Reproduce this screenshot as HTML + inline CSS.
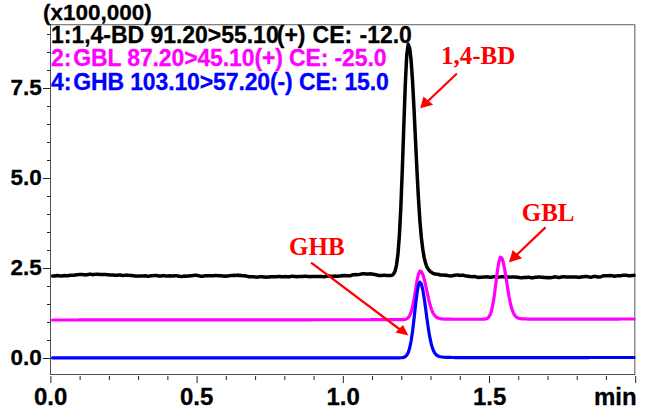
<!DOCTYPE html>
<html><head><meta charset="utf-8"><style>
html,body{margin:0;padding:0;background:#fff;width:646px;height:410px;overflow:hidden;position:relative}
.t{position:absolute;white-space:pre;font-family:"Liberation Sans",sans-serif;font-weight:bold;line-height:1;-webkit-text-stroke:0.3px currentColor}
.s{position:absolute;white-space:pre;font-family:"Liberation Serif",serif;font-weight:bold;line-height:1;color:#f00;transform:scaleY(1.03);transform-origin:0 0}
</style></head><body>
<svg width="646" height="410" style="position:absolute;left:0;top:0">
<rect x="50" y="24" width="585" height="1" fill="#808080"/><rect x="50" y="25" width="585" height="1" fill="#dcdcdc"/>
<rect x="634" y="24" width="1" height="351" fill="#8a8a8a"/><rect x="635" y="24" width="1" height="351" fill="#c8c8c8"/>
<rect x="50" y="24" width="1" height="351" fill="#505050"/>
<rect x="50" y="374" width="585" height="1" fill="#505050"/>
<rect x="43" y="358" width="7" height="1" fill="#222"/><rect x="47" y="340" width="3" height="1" fill="#222"/><rect x="47" y="322" width="3" height="1" fill="#222"/><rect x="47" y="304" width="3" height="1" fill="#222"/><rect x="47" y="286" width="3" height="1" fill="#222"/><rect x="43" y="268" width="7" height="1" fill="#222"/><rect x="47" y="250" width="3" height="1" fill="#222"/><rect x="47" y="232" width="3" height="1" fill="#222"/><rect x="47" y="214" width="3" height="1" fill="#222"/><rect x="47" y="196" width="3" height="1" fill="#222"/><rect x="43" y="178" width="7" height="1" fill="#222"/><rect x="47" y="160" width="3" height="1" fill="#222"/><rect x="47" y="142" width="3" height="1" fill="#222"/><rect x="47" y="124" width="3" height="1" fill="#222"/><rect x="47" y="106" width="3" height="1" fill="#222"/><rect x="43" y="88" width="7" height="1" fill="#222"/><rect x="47" y="70" width="3" height="1" fill="#222"/><rect x="47" y="52" width="3" height="1" fill="#222"/><rect x="47" y="34" width="3" height="1" fill="#222"/><line x1="50.90" y1="376" x2="50.90" y2="383" stroke="#222" stroke-width="1"/><line x1="80.14" y1="376" x2="80.14" y2="380" stroke="#222" stroke-width="1"/><line x1="109.38" y1="376" x2="109.38" y2="380" stroke="#222" stroke-width="1"/><line x1="138.62" y1="376" x2="138.62" y2="380" stroke="#222" stroke-width="1"/><line x1="167.86" y1="376" x2="167.86" y2="380" stroke="#222" stroke-width="1"/><line x1="197.10" y1="376" x2="197.10" y2="383" stroke="#222" stroke-width="1"/><line x1="226.34" y1="376" x2="226.34" y2="380" stroke="#222" stroke-width="1"/><line x1="255.58" y1="376" x2="255.58" y2="380" stroke="#222" stroke-width="1"/><line x1="284.82" y1="376" x2="284.82" y2="380" stroke="#222" stroke-width="1"/><line x1="314.06" y1="376" x2="314.06" y2="380" stroke="#222" stroke-width="1"/><line x1="343.30" y1="376" x2="343.30" y2="383" stroke="#222" stroke-width="1"/><line x1="372.54" y1="376" x2="372.54" y2="380" stroke="#222" stroke-width="1"/><line x1="401.78" y1="376" x2="401.78" y2="380" stroke="#222" stroke-width="1"/><line x1="431.02" y1="376" x2="431.02" y2="380" stroke="#222" stroke-width="1"/><line x1="460.26" y1="376" x2="460.26" y2="380" stroke="#222" stroke-width="1"/><line x1="489.50" y1="376" x2="489.50" y2="383" stroke="#222" stroke-width="1"/><line x1="518.74" y1="376" x2="518.74" y2="380" stroke="#222" stroke-width="1"/><line x1="547.98" y1="376" x2="547.98" y2="380" stroke="#222" stroke-width="1"/><line x1="577.22" y1="376" x2="577.22" y2="380" stroke="#222" stroke-width="1"/><line x1="606.46" y1="376" x2="606.46" y2="380" stroke="#222" stroke-width="1"/><line x1="635.70" y1="376" x2="635.70" y2="383" stroke="#222" stroke-width="1"/>
<path d="M52.60,276.07 L54.40,275.91 L55.86,275.75 L57.32,275.59 L58.78,275.68 L60.24,275.89 L61.71,275.91 L63.17,275.76 L64.63,275.58 L66.09,275.65 L67.55,275.71 L69.02,275.45 L70.48,275.33 L71.94,275.37 L73.40,275.26 L74.86,275.14 L76.33,274.70 L77.79,274.66 L79.25,274.40 L80.71,274.60 L82.17,274.56 L83.64,274.83 L85.10,274.84 L86.56,274.95 L88.02,274.48 L89.48,274.33 L90.95,274.30 L92.41,274.66 L93.87,274.47 L95.33,274.36 L96.79,274.16 L98.26,274.24 L99.72,274.44 L101.18,274.43 L102.64,274.51 L104.10,274.49 L105.57,274.58 L107.03,274.67 L108.49,274.72 L109.95,275.03 L111.41,275.02 L112.88,275.09 L114.34,275.28 L115.80,275.16 L117.26,275.18 L118.72,274.93 L120.19,275.05 L121.65,275.24 L123.11,275.39 L124.57,275.35 L126.03,275.11 L127.50,275.14 L128.96,275.36 L130.42,275.54 L131.88,275.55 L133.34,275.79 L134.81,276.04 L136.27,276.08 L137.73,276.13 L139.19,275.93 L140.65,276.10 L142.12,275.91 L143.58,275.88 L145.04,275.80 L146.50,276.09 L147.96,276.32 L149.43,276.12 L150.89,275.84 L152.35,275.73 L153.81,275.60 L155.27,275.62 L156.74,275.48 L158.20,275.94 L159.66,276.08 L161.12,276.02 L162.58,275.75 L164.05,275.60 L165.51,275.89 L166.97,275.90 L168.43,275.93 L169.89,275.81 L171.36,275.90 L172.82,275.97 L174.28,275.79 L175.74,275.86 L177.20,275.87 L178.67,276.24 L180.13,276.34 L181.59,276.39 L183.05,276.28 L184.51,276.07 L185.98,276.18 L187.44,276.02 L188.90,276.10 L190.36,275.70 L191.82,275.73 L193.29,275.39 L194.75,275.30 L196.21,275.26 L197.67,275.45 L199.13,275.85 L200.60,276.29 L202.06,276.31 L203.52,276.17 L204.98,275.79 L206.44,275.87 L207.91,275.81 L209.37,275.67 L210.83,275.66 L212.29,275.76 L213.75,275.67 L215.22,275.61 L216.68,275.60 L218.14,275.65 L219.60,275.76 L221.06,275.68 L222.53,276.04 L223.99,276.09 L225.45,276.28 L226.91,276.06 L228.37,276.00 L229.84,275.63 L231.30,275.47 L232.76,275.43 L234.22,275.30 L235.68,275.49 L237.15,275.06 L238.61,275.45 L240.07,275.21 L241.53,275.66 L242.99,275.69 L244.46,275.78 L245.92,276.03 L247.38,276.40 L248.84,276.80 L250.30,276.74 L251.77,276.66 L253.23,276.66 L254.69,276.97 L256.15,276.97 L257.61,277.14 L259.08,276.85 L260.54,276.82 L262.00,276.63 L263.46,276.92 L264.92,276.97 L266.39,277.30 L267.85,277.10 L269.31,277.00 L270.77,276.79 L272.23,276.69 L273.70,276.78 L275.16,276.76 L276.62,276.78 L278.08,276.55 L279.54,276.47 L281.01,276.74 L282.47,276.83 L283.93,276.77 L285.39,276.55 L286.85,276.85 L288.32,276.77 L289.78,276.67 L291.24,276.35 L292.70,276.29 L294.16,276.42 L295.63,276.51 L297.09,276.77 L298.55,276.54 L300.01,276.60 L301.47,276.50 L302.94,276.58 L304.40,276.34 L305.86,276.22 L307.32,276.44 L308.78,276.52 L310.25,276.73 L311.71,276.52 L313.17,276.52 L314.63,276.39 L316.09,276.48 L317.56,276.49 L319.02,276.52 L320.48,276.39 L321.94,276.57 L323.40,276.65 L324.87,276.64 L326.33,276.32 L327.79,275.95 L329.25,275.98 L330.71,276.15 L332.18,276.28 L333.64,276.16 L335.10,276.07 L336.56,276.16 L338.02,276.16 L339.49,275.91 L340.95,275.94 L342.41,275.54 L343.87,275.66 L345.33,275.43 L346.80,275.67 L348.26,275.75 L349.72,275.82 L351.18,275.44 L352.64,274.82 L354.11,274.63 L355.57,274.55 L357.03,274.70 L358.49,274.59 L359.95,274.37 L361.42,273.94 L362.88,273.72 L364.34,273.85 L365.80,274.04 L367.26,273.98 L368.73,273.90 L370.19,273.83 L371.65,273.99 L373.11,274.20 L374.57,274.41 L376.04,274.74 L377.50,275.09 L378.96,275.59 L380.42,275.51 L381.88,275.50 L383.35,275.33 L384.81,275.33 L386.27,275.43 L387.73,275.41 L389.19,275.53 L390.66,275.38 L392.12,275.35 L393.58,273.91 L395.04,271.23 L396.50,265.04 L397.97,254.09 L399.43,234.80 L400.89,206.25 L402.35,168.68 L403.81,125.86 L405.28,84.96 L406.74,55.01 L408.20,44.27 L409.66,48.07 L411.12,60.57 L412.59,81.90 L414.05,109.64 L415.51,140.40 L416.97,170.72 L418.43,198.18 L419.90,220.81 L421.36,237.67 L422.82,249.56 L424.28,258.11 L425.74,263.87 L427.21,267.62 L428.67,269.78 L430.13,271.30 L431.59,272.47 L433.05,273.31 L434.52,273.89 L435.98,274.04 L437.44,274.36 L438.90,274.49 L440.36,275.02 L441.83,274.91 L443.29,275.13 L444.75,275.07 L446.21,275.15 L447.67,275.49 L449.14,275.75 L450.60,275.90 L452.06,275.76 L453.52,275.58 L454.98,275.23 L456.45,275.12 L457.91,275.02 L459.37,275.39 L460.83,275.21 L462.29,275.25 L463.76,275.32 L465.22,275.81 L466.68,276.10 L468.14,276.32 L469.60,276.56 L471.07,276.62 L472.53,276.75 L473.99,276.38 L475.45,276.80 L476.91,277.06 L478.38,277.49 L479.84,277.34 L481.30,277.20 L482.76,277.09 L484.22,276.94 L485.69,276.88 L487.15,276.84 L488.61,277.10 L490.07,277.20 L491.53,277.17 L493.00,276.84 L494.46,276.65 L495.92,276.89 L497.38,277.04 L498.84,277.15 L500.31,276.88 L501.77,276.66 L503.23,276.68 L504.69,276.92 L506.15,277.08 L507.62,277.10 L509.08,276.99 L510.54,277.12 L512.00,276.96 L513.46,277.01 L514.93,276.92 L516.39,277.34 L517.85,277.31 L519.31,277.56 L520.77,277.67 L522.24,277.75 L523.70,277.57 L525.16,277.37 L526.62,277.41 L528.08,277.34 L529.55,277.37 L531.01,277.67 L532.47,277.77 L533.93,277.66 L535.39,277.20 L536.86,277.28 L538.32,277.11 L539.78,277.09 L541.24,277.22 L542.70,277.25 L544.17,277.56 L545.63,277.57 L547.09,277.72 L548.55,277.62 L550.01,277.66 L551.48,277.57 L552.94,277.38 L554.40,276.86 L555.86,276.88 L557.32,277.17 L558.79,277.49 L560.25,277.32 L561.71,276.95 L563.17,276.71 L564.63,276.87 L566.10,276.95 L567.56,277.03 L569.02,277.01 L570.48,276.97 L571.94,276.91 L573.41,276.88 L574.87,276.89 L576.33,276.95 L577.79,277.18 L579.25,277.28 L580.72,277.22 L582.18,276.70 L583.64,276.70 L585.10,276.44 L586.56,276.52 L588.03,276.63 L589.49,277.05 L590.95,277.24 L592.41,276.82 L593.87,276.60 L595.34,276.43 L596.80,276.66 L598.26,276.95 L599.72,276.97 L601.18,276.64 L602.65,276.01 L604.11,275.86 L605.57,275.83 L607.03,275.72 L608.49,275.66 L609.96,275.44 L611.42,275.73 L612.88,275.84 L614.34,276.17 L615.80,275.93 L617.27,275.84 L618.73,275.65 L620.19,275.66 L621.65,275.53 L623.11,275.35 L624.58,275.18 L626.04,275.35 L627.50,275.51 L628.96,275.75 L630.42,275.78 L631.89,275.54 L633.35,275.39 L634.00,275.26" fill="none" stroke="#000" stroke-width="3.5" stroke-linejoin="round" stroke-linecap="round"/>
<path d="M52.60,320.00 L54.40,320.00 L55.86,319.99 L57.32,319.99 L58.78,319.99 L60.24,319.99 L61.71,319.99 L63.17,319.99 L64.63,319.99 L66.09,319.99 L67.55,319.98 L69.02,319.98 L70.48,319.98 L71.94,319.98 L73.40,319.98 L74.86,319.98 L76.33,319.98 L77.79,319.98 L79.25,319.97 L80.71,319.97 L82.17,319.97 L83.64,319.97 L85.10,319.97 L86.56,319.97 L88.02,319.97 L89.48,319.97 L90.95,319.96 L92.41,319.96 L93.87,319.96 L95.33,319.96 L96.79,319.96 L98.26,319.96 L99.72,319.96 L101.18,319.96 L102.64,319.95 L104.10,319.95 L105.57,319.95 L107.03,319.95 L108.49,319.95 L109.95,319.95 L111.41,319.95 L112.88,319.95 L114.34,319.94 L115.80,319.94 L117.26,319.94 L118.72,319.94 L120.19,319.94 L121.65,319.94 L123.11,319.94 L124.57,319.94 L126.03,319.93 L127.50,319.93 L128.96,319.93 L130.42,319.93 L131.88,319.93 L133.34,319.93 L134.81,319.93 L136.27,319.93 L137.73,319.92 L139.19,319.92 L140.65,319.92 L142.12,319.92 L143.58,319.92 L145.04,319.92 L146.50,319.92 L147.96,319.92 L149.43,319.91 L150.89,319.91 L152.35,319.91 L153.81,319.91 L155.27,319.91 L156.74,319.91 L158.20,319.91 L159.66,319.91 L161.12,319.90 L162.58,319.90 L164.05,319.90 L165.51,319.90 L166.97,319.90 L168.43,319.90 L169.89,319.90 L171.36,319.90 L172.82,319.89 L174.28,319.89 L175.74,319.89 L177.20,319.89 L178.67,319.89 L180.13,319.89 L181.59,319.89 L183.05,319.89 L184.51,319.88 L185.98,319.88 L187.44,319.88 L188.90,319.88 L190.36,319.88 L191.82,319.88 L193.29,319.88 L194.75,319.88 L196.21,319.87 L197.67,319.87 L199.13,319.87 L200.60,319.87 L202.06,319.87 L203.52,319.87 L204.98,319.87 L206.44,319.87 L207.91,319.86 L209.37,319.86 L210.83,319.86 L212.29,319.86 L213.75,319.86 L215.22,319.86 L216.68,319.86 L218.14,319.86 L219.60,319.85 L221.06,319.85 L222.53,319.85 L223.99,319.85 L225.45,319.85 L226.91,319.85 L228.37,319.85 L229.84,319.85 L231.30,319.84 L232.76,319.84 L234.22,319.84 L235.68,319.84 L237.15,319.84 L238.61,319.84 L240.07,319.84 L241.53,319.84 L242.99,319.83 L244.46,319.83 L245.92,319.83 L247.38,319.83 L248.84,319.83 L250.30,319.83 L251.77,319.83 L253.23,319.83 L254.69,319.82 L256.15,319.82 L257.61,319.82 L259.08,319.82 L260.54,319.82 L262.00,319.82 L263.46,319.82 L264.92,319.82 L266.39,319.81 L267.85,319.81 L269.31,319.81 L270.77,319.81 L272.23,319.81 L273.70,319.81 L275.16,319.81 L276.62,319.81 L278.08,319.80 L279.54,319.80 L281.01,319.80 L282.47,319.80 L283.93,319.80 L285.39,319.80 L286.85,319.80 L288.32,319.80 L289.78,319.79 L291.24,319.79 L292.70,319.79 L294.16,319.79 L295.63,319.79 L297.09,319.79 L298.55,319.79 L300.01,319.79 L301.47,319.78 L302.94,319.78 L304.40,319.78 L305.86,319.78 L307.32,319.78 L308.78,319.78 L310.25,319.78 L311.71,319.78 L313.17,319.77 L314.63,319.77 L316.09,319.77 L317.56,319.77 L319.02,319.77 L320.48,319.77 L321.94,319.77 L323.40,319.77 L324.87,319.76 L326.33,319.76 L327.79,319.76 L329.25,319.76 L330.71,319.76 L332.18,319.76 L333.64,319.76 L335.10,319.76 L336.56,319.75 L338.02,319.75 L339.49,319.75 L340.95,319.75 L342.41,319.75 L343.87,319.75 L345.33,319.75 L346.80,319.75 L348.26,319.74 L349.72,319.74 L351.18,319.74 L352.64,319.74 L354.11,319.74 L355.57,319.74 L357.03,319.74 L358.49,319.74 L359.95,319.73 L361.42,319.73 L362.88,319.73 L364.34,319.73 L365.80,319.73 L367.26,319.73 L368.73,319.73 L370.19,319.73 L371.65,319.72 L373.11,319.72 L374.57,319.72 L376.04,319.72 L377.50,319.72 L378.96,319.72 L380.42,319.72 L381.88,319.72 L383.35,319.71 L384.81,319.71 L386.27,319.71 L387.73,319.71 L389.19,319.71 L390.66,319.71 L392.12,319.71 L393.58,319.71 L395.04,319.70 L396.50,319.70 L397.97,319.70 L399.43,319.70 L400.89,319.68 L402.35,319.65 L403.81,319.56 L405.28,319.34 L406.74,318.84 L408.20,317.77 L409.66,315.69 L411.12,312.08 L412.59,306.51 L414.05,298.95 L415.51,290.04 L416.97,281.18 L418.43,274.27 L419.90,271.04 L421.36,271.60 L422.82,274.48 L424.28,279.42 L425.74,285.77 L427.21,292.66 L428.67,299.28 L430.13,305.03 L431.59,309.61 L433.05,313.00 L434.52,315.34 L435.98,316.86 L437.44,317.81 L438.90,318.37 L440.36,318.70 L441.83,318.90 L443.29,319.01 L444.75,319.09 L446.21,319.14 L447.67,319.17 L449.14,319.19 L450.60,319.21 L452.06,319.22 L453.52,319.24 L454.98,319.25 L456.45,319.25 L457.91,319.26 L459.37,319.26 L460.83,319.27 L462.29,319.27 L463.76,319.27 L465.22,319.27 L466.68,319.27 L468.14,319.27 L469.60,319.26 L471.07,319.26 L472.53,319.26 L473.99,319.26 L475.45,319.26 L476.91,319.26 L478.38,319.25 L479.84,319.25 L481.30,319.24 L482.76,319.22 L484.22,319.14 L485.69,318.94 L487.15,318.43 L488.61,317.27 L490.07,314.92 L491.53,310.68 L493.00,303.90 L494.46,294.42 L495.92,282.92 L497.38,271.19 L498.84,261.79 L500.31,257.15 L501.77,257.85 L503.23,262.17 L504.69,269.45 L506.15,278.54 L507.62,288.05 L509.08,296.78 L510.54,304.00 L512.00,309.42 L513.46,313.18 L514.93,315.60 L516.39,317.07 L517.85,317.91 L519.31,318.38 L520.77,318.65 L522.24,318.80 L523.70,318.90 L525.16,318.96 L526.62,319.01 L528.08,319.04 L529.55,319.07 L531.01,319.09 L532.47,319.10 L533.93,319.11 L535.39,319.12 L536.86,319.13 L538.32,319.13 L539.78,319.14 L541.24,319.14 L542.70,319.14 L544.17,319.14 L545.63,319.14 L547.09,319.14 L548.55,319.14 L550.01,319.13 L551.48,319.13 L552.94,319.13 L554.40,319.13 L555.86,319.13 L557.32,319.12 L558.79,319.12 L560.25,319.12 L561.71,319.12 L563.17,319.12 L564.63,319.11 L566.10,319.11 L567.56,319.11 L569.02,319.11 L570.48,319.10 L571.94,319.10 L573.41,319.10 L574.87,319.10 L576.33,319.10 L577.79,319.09 L579.25,319.09 L580.72,319.09 L582.18,319.09 L583.64,319.08 L585.10,319.08 L586.56,319.08 L588.03,319.08 L589.49,319.07 L590.95,319.07 L592.41,319.07 L593.87,319.07 L595.34,319.06 L596.80,319.06 L598.26,319.06 L599.72,319.06 L601.18,319.05 L602.65,319.05 L604.11,319.05 L605.57,319.05 L607.03,319.05 L608.49,319.04 L609.96,319.04 L611.42,319.04 L612.88,319.04 L614.34,319.03 L615.80,319.03 L617.27,319.03 L618.73,319.03 L620.19,319.02 L621.65,319.02 L623.11,319.02 L624.58,319.02 L626.04,319.01 L627.50,319.01 L628.96,319.01 L630.42,319.01 L631.89,319.01 L633.35,319.00 L634.00,319.00" fill="none" stroke="#f0f" stroke-width="3.2" stroke-linejoin="round" stroke-linecap="round"/>
<path d="M52.60,357.90 L54.40,357.90 L55.86,357.90 L57.32,357.90 L58.78,357.90 L60.24,357.90 L61.71,357.90 L63.17,357.90 L64.63,357.90 L66.09,357.90 L67.55,357.89 L69.02,357.89 L70.48,357.89 L71.94,357.89 L73.40,357.89 L74.86,357.89 L76.33,357.89 L77.79,357.89 L79.25,357.89 L80.71,357.89 L82.17,357.89 L83.64,357.89 L85.10,357.89 L86.56,357.89 L88.02,357.89 L89.48,357.89 L90.95,357.89 L92.41,357.89 L93.87,357.89 L95.33,357.89 L96.79,357.89 L98.26,357.89 L99.72,357.89 L101.18,357.89 L102.64,357.88 L104.10,357.88 L105.57,357.88 L107.03,357.88 L108.49,357.88 L109.95,357.88 L111.41,357.88 L112.88,357.88 L114.34,357.88 L115.80,357.88 L117.26,357.88 L118.72,357.88 L120.19,357.88 L121.65,357.88 L123.11,357.88 L124.57,357.88 L126.03,357.88 L127.50,357.88 L128.96,357.88 L130.42,357.88 L131.88,357.88 L133.34,357.88 L134.81,357.88 L136.27,357.88 L137.73,357.87 L139.19,357.87 L140.65,357.87 L142.12,357.87 L143.58,357.87 L145.04,357.87 L146.50,357.87 L147.96,357.87 L149.43,357.87 L150.89,357.87 L152.35,357.87 L153.81,357.87 L155.27,357.87 L156.74,357.87 L158.20,357.87 L159.66,357.87 L161.12,357.87 L162.58,357.87 L164.05,357.87 L165.51,357.87 L166.97,357.87 L168.43,357.87 L169.89,357.87 L171.36,357.87 L172.82,357.86 L174.28,357.86 L175.74,357.86 L177.20,357.86 L178.67,357.86 L180.13,357.86 L181.59,357.86 L183.05,357.86 L184.51,357.86 L185.98,357.86 L187.44,357.86 L188.90,357.86 L190.36,357.86 L191.82,357.86 L193.29,357.86 L194.75,357.86 L196.21,357.86 L197.67,357.86 L199.13,357.86 L200.60,357.86 L202.06,357.86 L203.52,357.86 L204.98,357.86 L206.44,357.86 L207.91,357.85 L209.37,357.85 L210.83,357.85 L212.29,357.85 L213.75,357.85 L215.22,357.85 L216.68,357.85 L218.14,357.85 L219.60,357.85 L221.06,357.85 L222.53,357.85 L223.99,357.85 L225.45,357.85 L226.91,357.85 L228.37,357.85 L229.84,357.85 L231.30,357.85 L232.76,357.85 L234.22,357.85 L235.68,357.85 L237.15,357.85 L238.61,357.85 L240.07,357.85 L241.53,357.85 L242.99,357.84 L244.46,357.84 L245.92,357.84 L247.38,357.84 L248.84,357.84 L250.30,357.84 L251.77,357.84 L253.23,357.84 L254.69,357.84 L256.15,357.84 L257.61,357.84 L259.08,357.84 L260.54,357.84 L262.00,357.84 L263.46,357.84 L264.92,357.84 L266.39,357.84 L267.85,357.84 L269.31,357.84 L270.77,357.84 L272.23,357.84 L273.70,357.84 L275.16,357.84 L276.62,357.84 L278.08,357.83 L279.54,357.83 L281.01,357.83 L282.47,357.83 L283.93,357.83 L285.39,357.83 L286.85,357.83 L288.32,357.83 L289.78,357.83 L291.24,357.83 L292.70,357.83 L294.16,357.83 L295.63,357.83 L297.09,357.83 L298.55,357.83 L300.01,357.83 L301.47,357.83 L302.94,357.83 L304.40,357.83 L305.86,357.83 L307.32,357.83 L308.78,357.83 L310.25,357.83 L311.71,357.83 L313.17,357.82 L314.63,357.82 L316.09,357.82 L317.56,357.82 L319.02,357.82 L320.48,357.82 L321.94,357.82 L323.40,357.82 L324.87,357.82 L326.33,357.82 L327.79,357.82 L329.25,357.82 L330.71,357.82 L332.18,357.82 L333.64,357.82 L335.10,357.82 L336.56,357.82 L338.02,357.82 L339.49,357.82 L340.95,357.82 L342.41,357.82 L343.87,357.82 L345.33,357.82 L346.80,357.82 L348.26,357.81 L349.72,357.81 L351.18,357.81 L352.64,357.81 L354.11,357.81 L355.57,357.81 L357.03,357.81 L358.49,357.81 L359.95,357.81 L361.42,357.81 L362.88,357.81 L364.34,357.81 L365.80,357.81 L367.26,357.81 L368.73,357.81 L370.19,357.81 L371.65,357.81 L373.11,357.81 L374.57,357.81 L376.04,357.81 L377.50,357.81 L378.96,357.81 L380.42,357.81 L381.88,357.81 L383.35,357.80 L384.81,357.80 L386.27,357.80 L387.73,357.80 L389.19,357.80 L390.66,357.80 L392.12,357.80 L393.58,357.80 L395.04,357.80 L396.50,357.80 L397.97,357.80 L399.43,357.78 L400.89,357.74 L402.35,357.62 L403.81,357.33 L405.28,356.67 L406.74,355.28 L408.20,352.64 L409.66,348.08 L411.12,340.98 L412.59,331.05 L414.05,318.74 L415.51,305.42 L416.97,293.31 L418.43,284.90 L419.90,282.13 L421.36,284.17 L422.82,289.95 L424.28,298.84 L425.74,309.54 L427.21,320.56 L428.67,330.63 L430.13,338.98 L431.59,345.33 L433.05,349.81 L434.52,352.76 L435.98,354.61 L437.44,355.72 L438.90,356.38 L440.36,356.76 L441.83,357.00 L443.29,357.15 L444.75,357.26 L446.21,357.33 L447.67,357.39 L449.14,357.43 L450.60,357.47 L452.06,357.49 L453.52,357.52 L454.98,357.53 L456.45,357.55 L457.91,357.56 L459.37,357.56 L460.83,357.57 L462.29,357.57 L463.76,357.58 L465.22,357.58 L466.68,357.58 L468.14,357.58 L469.60,357.58 L471.07,357.58 L472.53,357.58 L473.99,357.58 L475.45,357.58 L476.91,357.58 L478.38,357.58 L479.84,357.58 L481.30,357.58 L482.76,357.58 L484.22,357.58 L485.69,357.58 L487.15,357.58 L488.61,357.58 L490.07,357.58 L491.53,357.58 L493.00,357.58 L494.46,357.58 L495.92,357.58 L497.38,357.57 L498.84,357.57 L500.31,357.57 L501.77,357.57 L503.23,357.57 L504.69,357.57 L506.15,357.57 L507.62,357.57 L509.08,357.57 L510.54,357.57 L512.00,357.57 L513.46,357.57 L514.93,357.56 L516.39,357.56 L517.85,357.56 L519.31,357.56 L520.77,357.56 L522.24,357.56 L523.70,357.56 L525.16,357.56 L526.62,357.56 L528.08,357.56 L529.55,357.56 L531.01,357.56 L532.47,357.56 L533.93,357.55 L535.39,357.55 L536.86,357.55 L538.32,357.55 L539.78,357.55 L541.24,357.55 L542.70,357.55 L544.17,357.55 L545.63,357.55 L547.09,357.55 L548.55,357.55 L550.01,357.55 L551.48,357.55 L552.94,357.54 L554.40,357.54 L555.86,357.54 L557.32,357.54 L558.79,357.54 L560.25,357.54 L561.71,357.54 L563.17,357.54 L564.63,357.54 L566.10,357.54 L567.56,357.54 L569.02,357.54 L570.48,357.53 L571.94,357.53 L573.41,357.53 L574.87,357.53 L576.33,357.53 L577.79,357.53 L579.25,357.53 L580.72,357.53 L582.18,357.53 L583.64,357.53 L585.10,357.53 L586.56,357.53 L588.03,357.53 L589.49,357.52 L590.95,357.52 L592.41,357.52 L593.87,357.52 L595.34,357.52 L596.80,357.52 L598.26,357.52 L599.72,357.52 L601.18,357.52 L602.65,357.52 L604.11,357.52 L605.57,357.52 L607.03,357.52 L608.49,357.51 L609.96,357.51 L611.42,357.51 L612.88,357.51 L614.34,357.51 L615.80,357.51 L617.27,357.51 L618.73,357.51 L620.19,357.51 L621.65,357.51 L623.11,357.51 L624.58,357.51 L626.04,357.50 L627.50,357.50 L628.96,357.50 L630.42,357.50 L631.89,357.50 L633.35,357.50 L634.00,357.50" fill="none" stroke="#00f" stroke-width="3.2" stroke-linejoin="round" stroke-linecap="round"/>
<g stroke="#f00" stroke-width="2.2" fill="#f00">
<line x1="456.9" y1="73.5" x2="428" y2="101"/>
<polygon points="420.2,108.3 423.5,96.6 433.1,104.7" stroke="none"/>
<line x1="545.5" y1="227.4" x2="516" y2="255.5"/>
<polygon points="508.9,262.6 512.6,250.1 522.1,258.2" stroke="none"/>
<line x1="311.1" y1="262.6" x2="400" y2="329.5"/>
<polygon points="408.4,335.6 395.4,332.6 403,325" stroke="none"/>
</g>
</svg>
<div class="t" style="left:43px;top:1.5px;font-size:22.5px">(x100,000)</div>
<div class="t" style="left:51px;top:23.8px;font-size:23px;letter-spacing:-0.03px;color:#000">1:1,4-BD 91.20&gt;55.10</div><div class="t" style="left:276.8px;top:23.8px;font-size:23px;letter-spacing:-0.03px;color:#000">(+)</div><div class="t" style="left:306.2px;top:23.8px;font-size:23px;letter-spacing:-0.03px;color:#000"> CE:</div><div class="t" style="left:353.2px;top:23.8px;font-size:23px;letter-spacing:-0.03px;color:#000"> -12.0</div>
<div class="t" style="left:51px;top:47px;font-size:23px;color:#f0f">2:</div><div class="t" style="left:73.2px;top:47px;font-size:23px;letter-spacing:-0.125px;color:#f0f">GBL 87.20&gt;45.10(+) CE: -25.0</div>
<div class="t" style="left:51px;top:71.2px;font-size:23px;color:#00f">4:</div><div class="t" style="left:73.2px;top:71.2px;font-size:23px;letter-spacing:-0.125px;color:#00f">GHB 103.10&gt;57.20(-) CE: 15.0</div>
<div class="t" style="left:10.5px;top:77.3px;font-size:22.5px">7.5</div>
<div class="t" style="left:10.5px;top:167.3px;font-size:22.5px">5.0</div>
<div class="t" style="left:10.5px;top:257.3px;font-size:22.5px">2.5</div>
<div class="t" style="left:10.5px;top:347.3px;font-size:22.5px">0.0</div>
<div class="t" style="left:34px;top:384.5px;font-size:24px">0.0</div>
<div class="t" style="left:180px;top:384.5px;font-size:24px">0.5</div>
<div class="t" style="left:326.4px;top:384.5px;font-size:24px">1.0</div>
<div class="t" style="left:473px;top:384.5px;font-size:24px">1.5</div>
<div class="t" style="left:594px;top:384.5px;font-size:24px">min</div>
<div class="s" style="left:441px;top:41.5px;font-size:25px">1,4-BD</div>
<div class="s" style="left:521.7px;top:199.3px;font-size:25px">GBL</div>
<div class="s" style="left:289px;top:233.3px;font-size:25px">GHB</div>
</body></html>
